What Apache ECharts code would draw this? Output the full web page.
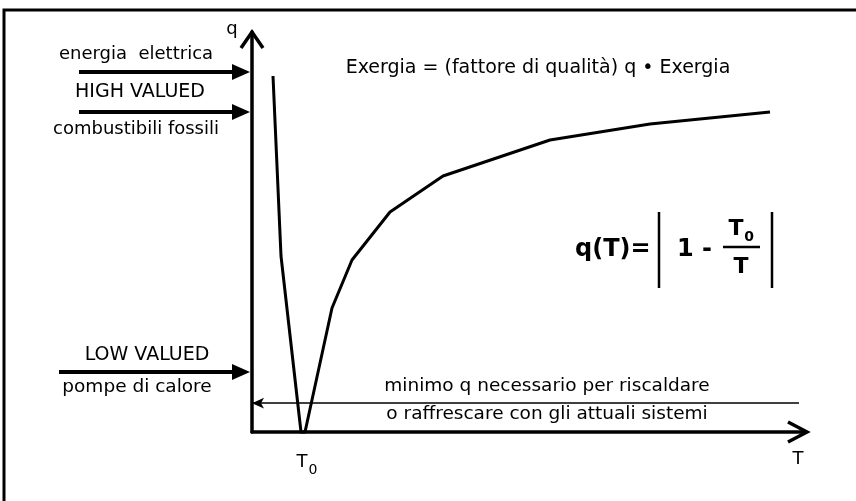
<!DOCTYPE html>
<html>
<head>
<meta charset="utf-8">
<script src="https://cdn.jsdelivr.net/npm/echarts@6/dist/echarts.min.js"></script>
<style>html,body{margin:0;padding:0;background:#fff}#c{width:856px;height:501px}</style>
</head>
<body>
<div id="c"></div>
<script>
// Curve q(T) (T in arbitrary units, q from 0 to 1)
const curveT = [0.42, 0.58, 0.98, 1.06, 1.60, 2.00, 2.76, 3.82, 5.96, 7.96, 10.36];
const curveQ = [0.89, 0.44, 0.00, 0.00, 0.31, 0.43, 0.55, 0.64, 0.73, 0.77, 0.80];
// Axis extents
const tMax = 11.08;
const qMax = 1.0;
// Quality levels pointed by the left arrows
const arrowLevels = [0.90, 0.80, 0.15];
// Minimum q currently needed for heating / cooling
const minQ = 0.072;
const minQEnd = 10.94;
// Texts
const leftLabels = ['energia  elettrica', 'HIGH VALUED', 'combustibili fossili', 'LOW VALUED', 'pompe di calore'];
const titleText = 'Exergia = (fattore di qualità) q \u2022 Exergia';
const minLines = ['minimo q necessario per riscaldare', 'o raffrescare con gli attuali sistemi'];

const FF = '"DejaVu Sans", Verdana, sans-serif';
const chart = echarts.init(document.getElementById('c'), null, {renderer: 'canvas'});

const data = curveT.map((t, i) => [t, curveQ[i]]);

chart.setOption({
  animation: false,
  backgroundColor: '#fff',
  grid: {left: 252, top: 32, right: 50, bottom: 69, containLabel: false},
  xAxis: {
    type: 'value', min: 0, max: tMax,
    axisLine: {show: true, onZero: false, lineStyle: {color: '#000', width: 3.5}},
    axisTick: {show: false}, axisLabel: {show: false}, splitLine: {show: false}
  },
  yAxis: {
    type: 'value', min: 0, max: qMax,
    axisLine: {show: true, onZero: false, lineStyle: {color: '#000', width: 3.5}},
    axisTick: {show: false}, axisLabel: {show: false}, splitLine: {show: false}
  },
  series: [{
    type: 'line',
    data: data,
    showSymbol: false,
    symbol: 'none',
    clip: false,
    lineStyle: {color: '#000', width: 3, join: 'round'},
    markLine: {
      silent: true,
      symbol: ['arrow', 'none'],
      symbolSize: [8, 12],
      label: {show: false},
      lineStyle: {color: '#000', width: 1.5, type: 'solid'},
      data: [[{coord: [0, minQ]}, {coord: [minQEnd, minQ]}]]
    }
  }]
});

function px(t, q) { return chart.convertToPixel({gridIndex: 0}, [t, q]); }

const g = [];
// frame
g.push({type: 'rect', shape: {x: 4, y: 10, width: 900, height: 600}, style: {fill: 'none', stroke: '#000', lineWidth: 3}, z: 10});
// axis chevrons
const yTip = px(0, qMax);
g.push({type: 'polyline', shape: {points: [[yTip[0] - 11, yTip[1] + 16], [yTip[0], yTip[1]], [yTip[0] + 11, yTip[1] + 16]]}, style: {stroke: '#000', lineWidth: 3.5, fill: 'none', lineJoin: 'miter'}, z: 10});
const xTip = px(tMax, 0);
g.push({type: 'polyline', shape: {points: [[xTip[0] - 18, xTip[1] - 10], [xTip[0] + 1, xTip[1]], [xTip[0] - 18, xTip[1] + 10]]}, style: {stroke: '#000', lineWidth: 3.5, fill: 'none', lineJoin: 'miter'}, z: 10});
// left arrows
const starts = [79, 79, 59];
arrowLevels.forEach((lv, i) => {
  const p = px(0, lv);
  const tipX = p[0] - 2;
  g.push({type: 'line', shape: {x1: starts[i], y1: p[1], x2: tipX - 14, y2: p[1]}, style: {stroke: '#000', lineWidth: 4}, z: 10});
  g.push({type: 'polygon', shape: {points: [[tipX - 18, p[1] - 8], [tipX, p[1]], [tipX - 18, p[1] + 8]]}, style: {fill: '#000'}, z: 10});
});
function txt(text, x, y, size, align, bold) {
  g.push({type: 'text', x: x, y: y, z: 11, style: {text: text, font: (bold ? 'bold ' : '') + size + 'px ' + FF, fill: '#000', textAlign: align || 'center', textVerticalAlign: 'middle'}});
}
const a1 = px(0, arrowLevels[0])[1], a2 = px(0, arrowLevels[1])[1], a3 = px(0, arrowLevels[2])[1];
txt(leftLabels[0], 136, a1 - 18, 18);
txt(leftLabels[1], 140, a1 + 20, 19);
txt(leftLabels[2], 136, a2 + 17, 18);
txt(leftLabels[3], 147, a3 - 17, 19);
txt(leftLabels[4], 137, a3 + 15, 18.5);
txt(titleText, 538, 68, 19);
txt(minLines[0], 547, 386, 18.5);
txt(minLines[1], 547, 414, 18.5);
// axis names
txt('q', 232, 29, 18);
txt('T', 798, 459, 18);
const t0 = px(curveT[2], 0);
txt('T', t0[0] + 1, 462, 18);
txt('0', t0[0] + 12, 470, 14);
// formula
txt('q(T)=', 575, 250, 24, 'left', true);
txt('1 -', 677, 250, 24, 'left', true);
txt('T', 736, 229, 22, 'center', true);
txt('0', 749, 237, 14, 'center', true);
txt('T', 741, 267, 22, 'center', true);
g.push({type: 'line', shape: {x1: 723, y1: 247, x2: 760, y2: 247}, style: {stroke: '#000', lineWidth: 2.5}, z: 10});
g.push({type: 'line', shape: {x1: 659, y1: 212, x2: 659, y2: 288}, style: {stroke: '#000', lineWidth: 2.5}, z: 10});
g.push({type: 'line', shape: {x1: 772, y1: 212, x2: 772, y2: 288}, style: {stroke: '#000', lineWidth: 2.5}, z: 10});

chart.setOption({graphic: g});
</script>
</body>
</html>
